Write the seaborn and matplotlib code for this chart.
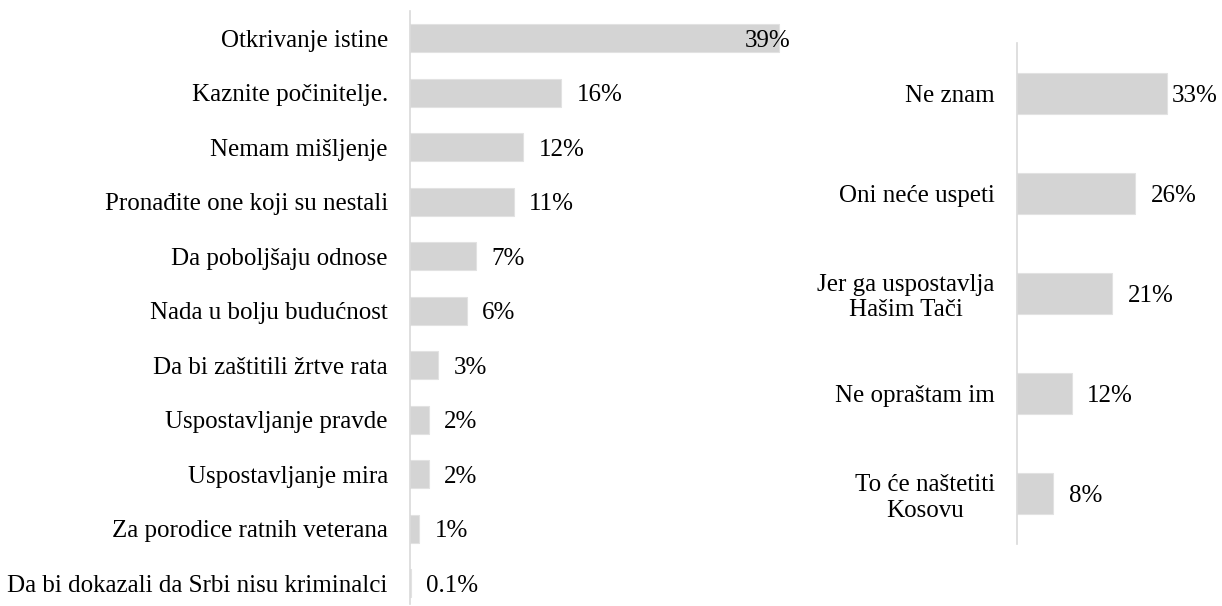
import matplotlib
matplotlib.use("Agg")
import matplotlib.pyplot as plt
import seaborn as sns
import pandas as pd

# left panel: reasons
left_labels = [
    "Otkrivanje istine",
    "Kaznite počinitelje.",
    "Nemam mišljenje",
    "Pronađite one koji su nestali",
    "Da poboljšaju odnose",
    "Nada u bolju budućnost",
    "Da bi zaštitili žrtve rata",
    "Uspostavljanje pravde",
    "Uspostavljanje mira",
    "Za porodice ratnih veterana",
    "Da bi dokazali da Srbi nisu kriminalci",
]
left_values = [39, 16, 12, 11, 7, 6, 3, 2, 2, 1, 0.1]
left_text = ["39%", "16%", "12%", "11%", "7%", "6%", "3%", "2%", "2%", "1%", "0.1%"]

# right panel
right_labels = [
    "Ne znam",
    "Oni neće uspeti",
    "Jer ga uspostavlja\nHašim Tači",
    "Ne opraštam im",
    "To će naštetiti\nKosovu",
]
right_values = [33, 26, 21, 12, 8]
right_text = ["33%", "26%", "21%", "12%", "8%"]

sns.set_theme(style="white")
plt.rcParams["font.family"] = ["Liberation Serif", "DejaVu Serif"]
plt.rcParams["text.color"] = "black"
plt.rcParams["ytick.color"] = "black"
plt.rcParams["ytick.labelcolor"] = "black"
FS = 18
BAR = "#d4d4d4"
AXC = "#d9d9d9"

W, H = 1222, 606
fig = plt.figure(figsize=(W / 100, H / 100), dpi=100)

def px_axes(x0, x1, y0, y1):
    return fig.add_axes([x0 / W, (H - y1) / H, (x1 - x0) / W, (y1 - y0) / H])

def draw(ax, labels, values, texts, width, xmax, ylim):
    df = pd.DataFrame({"label": labels, "value": values})
    sns.barplot(data=df, x="value", y="label", orient="h", color=BAR,
                width=width, ax=ax, saturation=1, edgecolor="#e2e2e2", linewidth=0.8)
    ax.set_xlim(0, xmax)
    ax.set_ylim(*ylim)
    ax.set_xlabel("")
    ax.set_ylabel("")
    ax.set_xticks([])
    for s in ["top", "right", "bottom"]:
        ax.spines[s].set_visible(False)
    ax.spines["left"].set_color(AXC)
    ax.spines["left"].set_linewidth(1.2)
    ax.tick_params(axis="y", length=0, pad=16, labelsize=FS, labelcolor="black")
    for t in ax.get_yticklabels():
        t.set_multialignment("center")
    anns = []
    for i, (v, t) in enumerate(zip(values, texts)):
        a = ax.annotate(t, (v, i), xytext=(11, 0), textcoords="offset points",
                        ha="left", va="center_baseline", fontsize=FS,
                        color="black", annotation_clip=False)
        anns.append(a)
    return anns

ax1 = px_axes(410, 790, 11, 604)
anns1 = draw(ax1, left_labels, left_values, left_text, 0.51, 40.2, (10.38, -0.5))

ax2 = px_axes(1017, 1218, 43, 544)
anns2 = draw(ax2, right_labels, right_values, right_text, 0.41, 44.2, (4.5, -0.5))

# labels that would run past the plot area get pulled back inside (like Excel)
fig.canvas.draw()
r = fig.canvas.get_renderer()
for ax, anns in [(ax1, anns1), (ax2, anns2)]:
    right = ax.get_window_extent(r).x1
    for a in anns:
        if a.get_window_extent(r).x1 > right:
            a.xy = (ax.get_xlim()[1], a.xy[1])
            a.set_position((0, 0))
            a.set_ha("right")

fig.savefig("out.png", dpi=100)
